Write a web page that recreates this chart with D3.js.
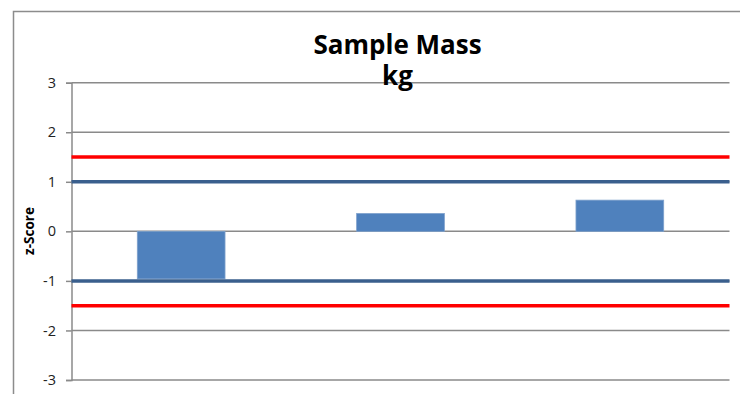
<!DOCTYPE html>
<html>
<head>
<meta charset="utf-8">
<script src="https://cdn.jsdelivr.net/npm/d3@7"></script>
<style>
  html, body { margin: 0; padding: 0; background: #fff; }
  svg { display: block; }
</style>
</head>
<body>
<svg id="chart" width="740" height="394"></svg>
<script>
// Sample z-scores and control limits
const categories = ["A", "B", "C"];
const zScores = [-0.96, 0.36, 0.63];
const yTicks = [-3, -2, -1, 0, 1, 2, 3];
const warningLimits = [1, -1];
const actionLimits = [1.5, -1.5];
const titleLines = ["Sample Mass", "kg"];
const yLabel = "z-Score";

const svg = d3.select("#chart");
const plot = { left: 71.5, right: 729.5, top: 82.7, bottom: 380 };
const font = "'Open Sans', Lato, sans-serif";

// Chart frame (runs past the right and bottom edges of the page)
svg.append("rect")
  .attr("x", 13.5).attr("y", 11.5)
  .attr("width", 800).attr("height", 500)
  .attr("fill", "none").attr("stroke", "#8c8c8c").attr("stroke-width", 1.5);

const x = d3.scaleBand().domain(categories)
  .range([plot.left, plot.right]).paddingInner(0.6).paddingOuter(0.3);
const y = d3.scaleLinear().domain([-3, 3]).range([plot.bottom, plot.top]);

// Horizontal gridlines
svg.append("g").selectAll("line").data(yTicks).join("line")
  .attr("x1", plot.left).attr("x2", plot.right)
  .attr("y1", d => y(d)).attr("y2", d => y(d))
  .attr("stroke", "#8a8a8a").attr("stroke-width", 1.5);

// Y axis
const yAxis = d3.axisLeft(y).tickValues(yTicks).tickSize(5.5).tickPadding(10).tickFormat(d => String(d));
const ga = svg.append("g").attr("transform", `translate(${plot.left},0)`).call(yAxis);
ga.select(".domain").attr("stroke", "#8a8a8a").attr("stroke-width", 1.5);
ga.selectAll(".tick line").attr("stroke", "#8a8a8a").attr("stroke-width", 1.5);
ga.selectAll(".tick text")
  .attr("font-family", font)
  .attr("font-size", 14.5).attr("fill", "#222");

// Bars
svg.append("g").selectAll("rect").data(categories).join("rect")
  .attr("x", d => x(d))
  .attr("width", x.bandwidth())
  .attr("y", (d, i) => y(Math.max(0, zScores[i])))
  .attr("height", (d, i) => Math.abs(y(zScores[i]) - y(0)))
  .attr("fill", "#4f81bd").attr("stroke", "#7ea1cc").attr("stroke-width", 0.8);

// Limit lines
svg.append("g").selectAll("line").data(actionLimits).join("line")
  .attr("x1", plot.left).attr("x2", plot.right)
  .attr("y1", d => y(d)).attr("y2", d => y(d))
  .attr("stroke", "#ff0000").attr("stroke-width", 3.5);
svg.append("g").selectAll("line").data(warningLimits).join("line")
  .attr("x1", plot.left).attr("x2", plot.right)
  .attr("y1", d => y(d)).attr("y2", d => y(d))
  .attr("stroke", "#3a5f8d").attr("stroke-width", 3.5);

// Title
const title = svg.append("text")
  .attr("text-anchor", "middle")
  .attr("font-family", font)
  .attr("font-weight", "bold").attr("font-size", 26).attr("fill", "#000");
title.selectAll("tspan").data(titleLines).join("tspan")
  .attr("x", 397.5).attr("y", (d, i) => 54 + i * 31)
  .text(d => d);

// Y axis title
svg.append("text")
  .attr("transform", `translate(34,231) rotate(-90)`)
  .attr("text-anchor", "middle")
  .attr("font-family", font)
  .attr("font-weight", "bold").attr("font-size", 13.5).attr("fill", "#000")
  .text(yLabel);
</script>
</body>
</html>
